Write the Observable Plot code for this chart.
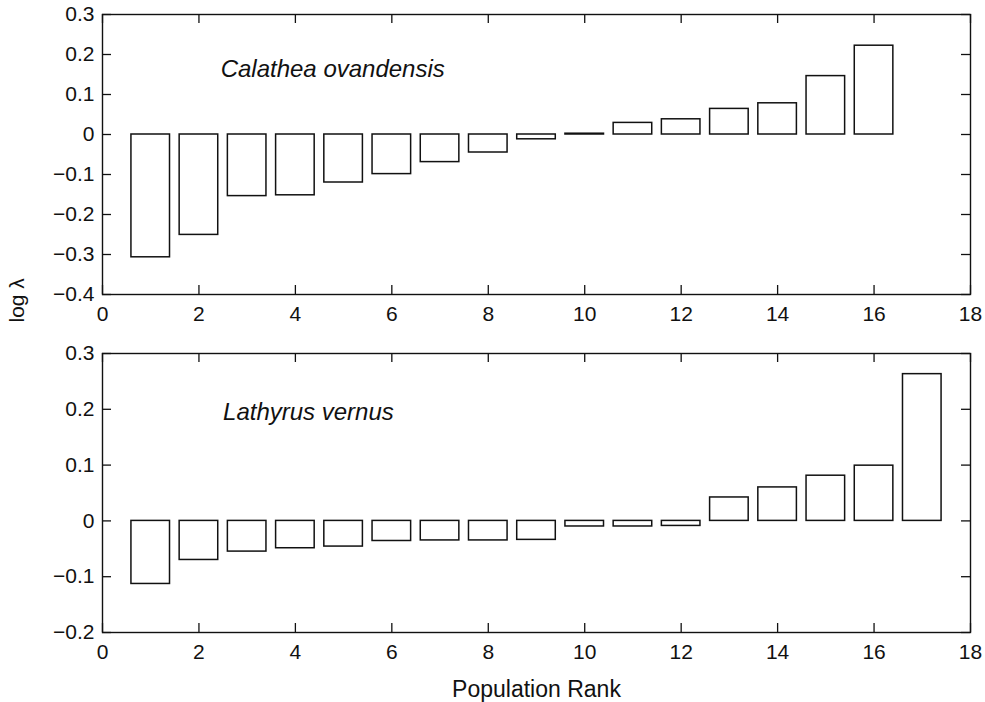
<!DOCTYPE html>
<html>
<head>
<meta charset="utf-8">
<script src="https://cdn.jsdelivr.net/npm/d3@7"></script>
<script src="https://cdn.jsdelivr.net/npm/@observablehq/plot@0.6"></script>
<style>
  body { margin: 0; background: #fff; }
  #chart { position: relative; width: 985px; height: 702px; background: #fff; }
  #chart svg { position: absolute; left: 0; }
</style>
</head>
<body>
<div id="chart"></div>
<script>
// ---- data ----
const calatheaRank = [1, 2, 3, 4, 5, 6, 7, 8, 9, 10, 11, 12, 13, 14, 15, 16];
const calatheaLogLambda = [-0.307, -0.251, -0.154, -0.152, -0.120, -0.099, -0.069, -0.045, -0.012, 0.002, 0.029, 0.038, 0.064, 0.078, 0.146, 0.222];
const lathyrusRank = [1, 2, 3, 4, 5, 6, 7, 8, 9, 10, 11, 12, 13, 14, 15, 16, 17];
const lathyrusLogLambda = [-0.113, -0.070, -0.055, -0.049, -0.046, -0.036, -0.035, -0.035, -0.034, -0.010, -0.010, -0.009, 0.042, 0.060, 0.081, 0.099, 0.263];
const xTicks = [0, 2, 4, 6, 8, 10, 12, 14, 16, 18];
const yTicksTop = [-0.4, -0.3, -0.2, -0.1, 0, 0.1, 0.2, 0.3];
const yTicksBottom = [-0.2, -0.1, 0, 0.1, 0.2, 0.3];
const speciesTop = "Calathea ovandensis";
const speciesBottom = "Lathyrus vernus";
const yLabel = "log λ";
const xLabel = "Population Rank";

// ---- drawing ----
const INK = "#111";
const fmtY = d => d === 0 ? "0" : d3.format(".1f")(d);

function panel({ranks, values, yDomain, yTicks, species, speciesX, speciesY, height, marginTop, marginBottom, extra = []}) {
  const W = 985, mL = 102, mR = 15, tick = 9;
  const fh = height - marginTop - marginBottom;
  const fw = W - mL - mR;
  const data = ranks.map((r, i) => ({rank: r, v: values[i]}));
  return Plot.plot({
    width: W, height, marginLeft: mL, marginRight: mR, marginTop, marginBottom,
    style: {fontFamily: "'Liberation Sans', Arial, Helvetica, sans-serif", fontSize: "21px", color: INK, overflow: "visible", background: "transparent"},
    x: {domain: [0, 18], ticks: xTicks, tickFormat: d => String(d), tickSize: 0, tickPadding: 12, label: null},
    y: {domain: yDomain, ticks: yTicks, tickFormat: fmtY, tickSize: 0, tickPadding: 8, label: null},
    marks: [
      Plot.rectY(data, {x1: d => d.rank - 0.4, x2: d => d.rank + 0.4, y1: 0, y2: "v", fill: "white", stroke: INK, strokeWidth: 1.5}),
      Plot.tickX(xTicks, {x: d => d, insetTop: fh - tick, stroke: INK, strokeWidth: 1.3}),
      Plot.tickX(xTicks, {x: d => d, insetBottom: fh - tick, stroke: INK, strokeWidth: 1.3}),
      Plot.tickY(yTicks, {y: d => d, insetRight: fw - tick, stroke: INK, strokeWidth: 1.3}),
      Plot.tickY(yTicks, {y: d => d, insetLeft: fw - tick, stroke: INK, strokeWidth: 1.3}),
      Plot.frame({stroke: INK, strokeWidth: 1.4}),
      Plot.text([species], {x: speciesX, y: speciesY, text: d => d, textAnchor: "start", lineAnchor: "middle", fontStyle: "italic", fontSize: 24, fill: INK}),
      ...extra
    ]
  });
}

const topPanel = panel({
  ranks: calatheaRank, values: calatheaLogLambda,
  yDomain: [-0.4, 0.3], yTicks: yTicksTop,
  species: speciesTop, speciesX: 2.45, speciesY: 0.162,
  height: 323, marginTop: 14, marginBottom: 29
});
topPanel.style.top = "0px";

const bottomPanel = panel({
  ranks: lathyrusRank, values: lathyrusLogLambda,
  yDomain: [-0.2, 0.3], yTicks: yTicksBottom,
  species: speciesBottom, speciesX: 2.5, speciesY: 0.195,
  height: 379, marginTop: 30, marginBottom: 70,
  extra: [
    Plot.text([xLabel], {frameAnchor: "bottom", dy: 57, text: d => d, fontSize: 23, lineAnchor: "middle", fill: INK}),
    Plot.text([yLabel], {frameAnchor: "top-left", dx: -85, dy: -31, rotate: -90, text: d => d, fontSize: 21, lineAnchor: "middle", fill: INK})
  ]
});
bottomPanel.style.top = "323px";

const chart = document.getElementById("chart");
chart.appendChild(topPanel);
chart.appendChild(bottomPanel);
</script>
</body>
</html>
